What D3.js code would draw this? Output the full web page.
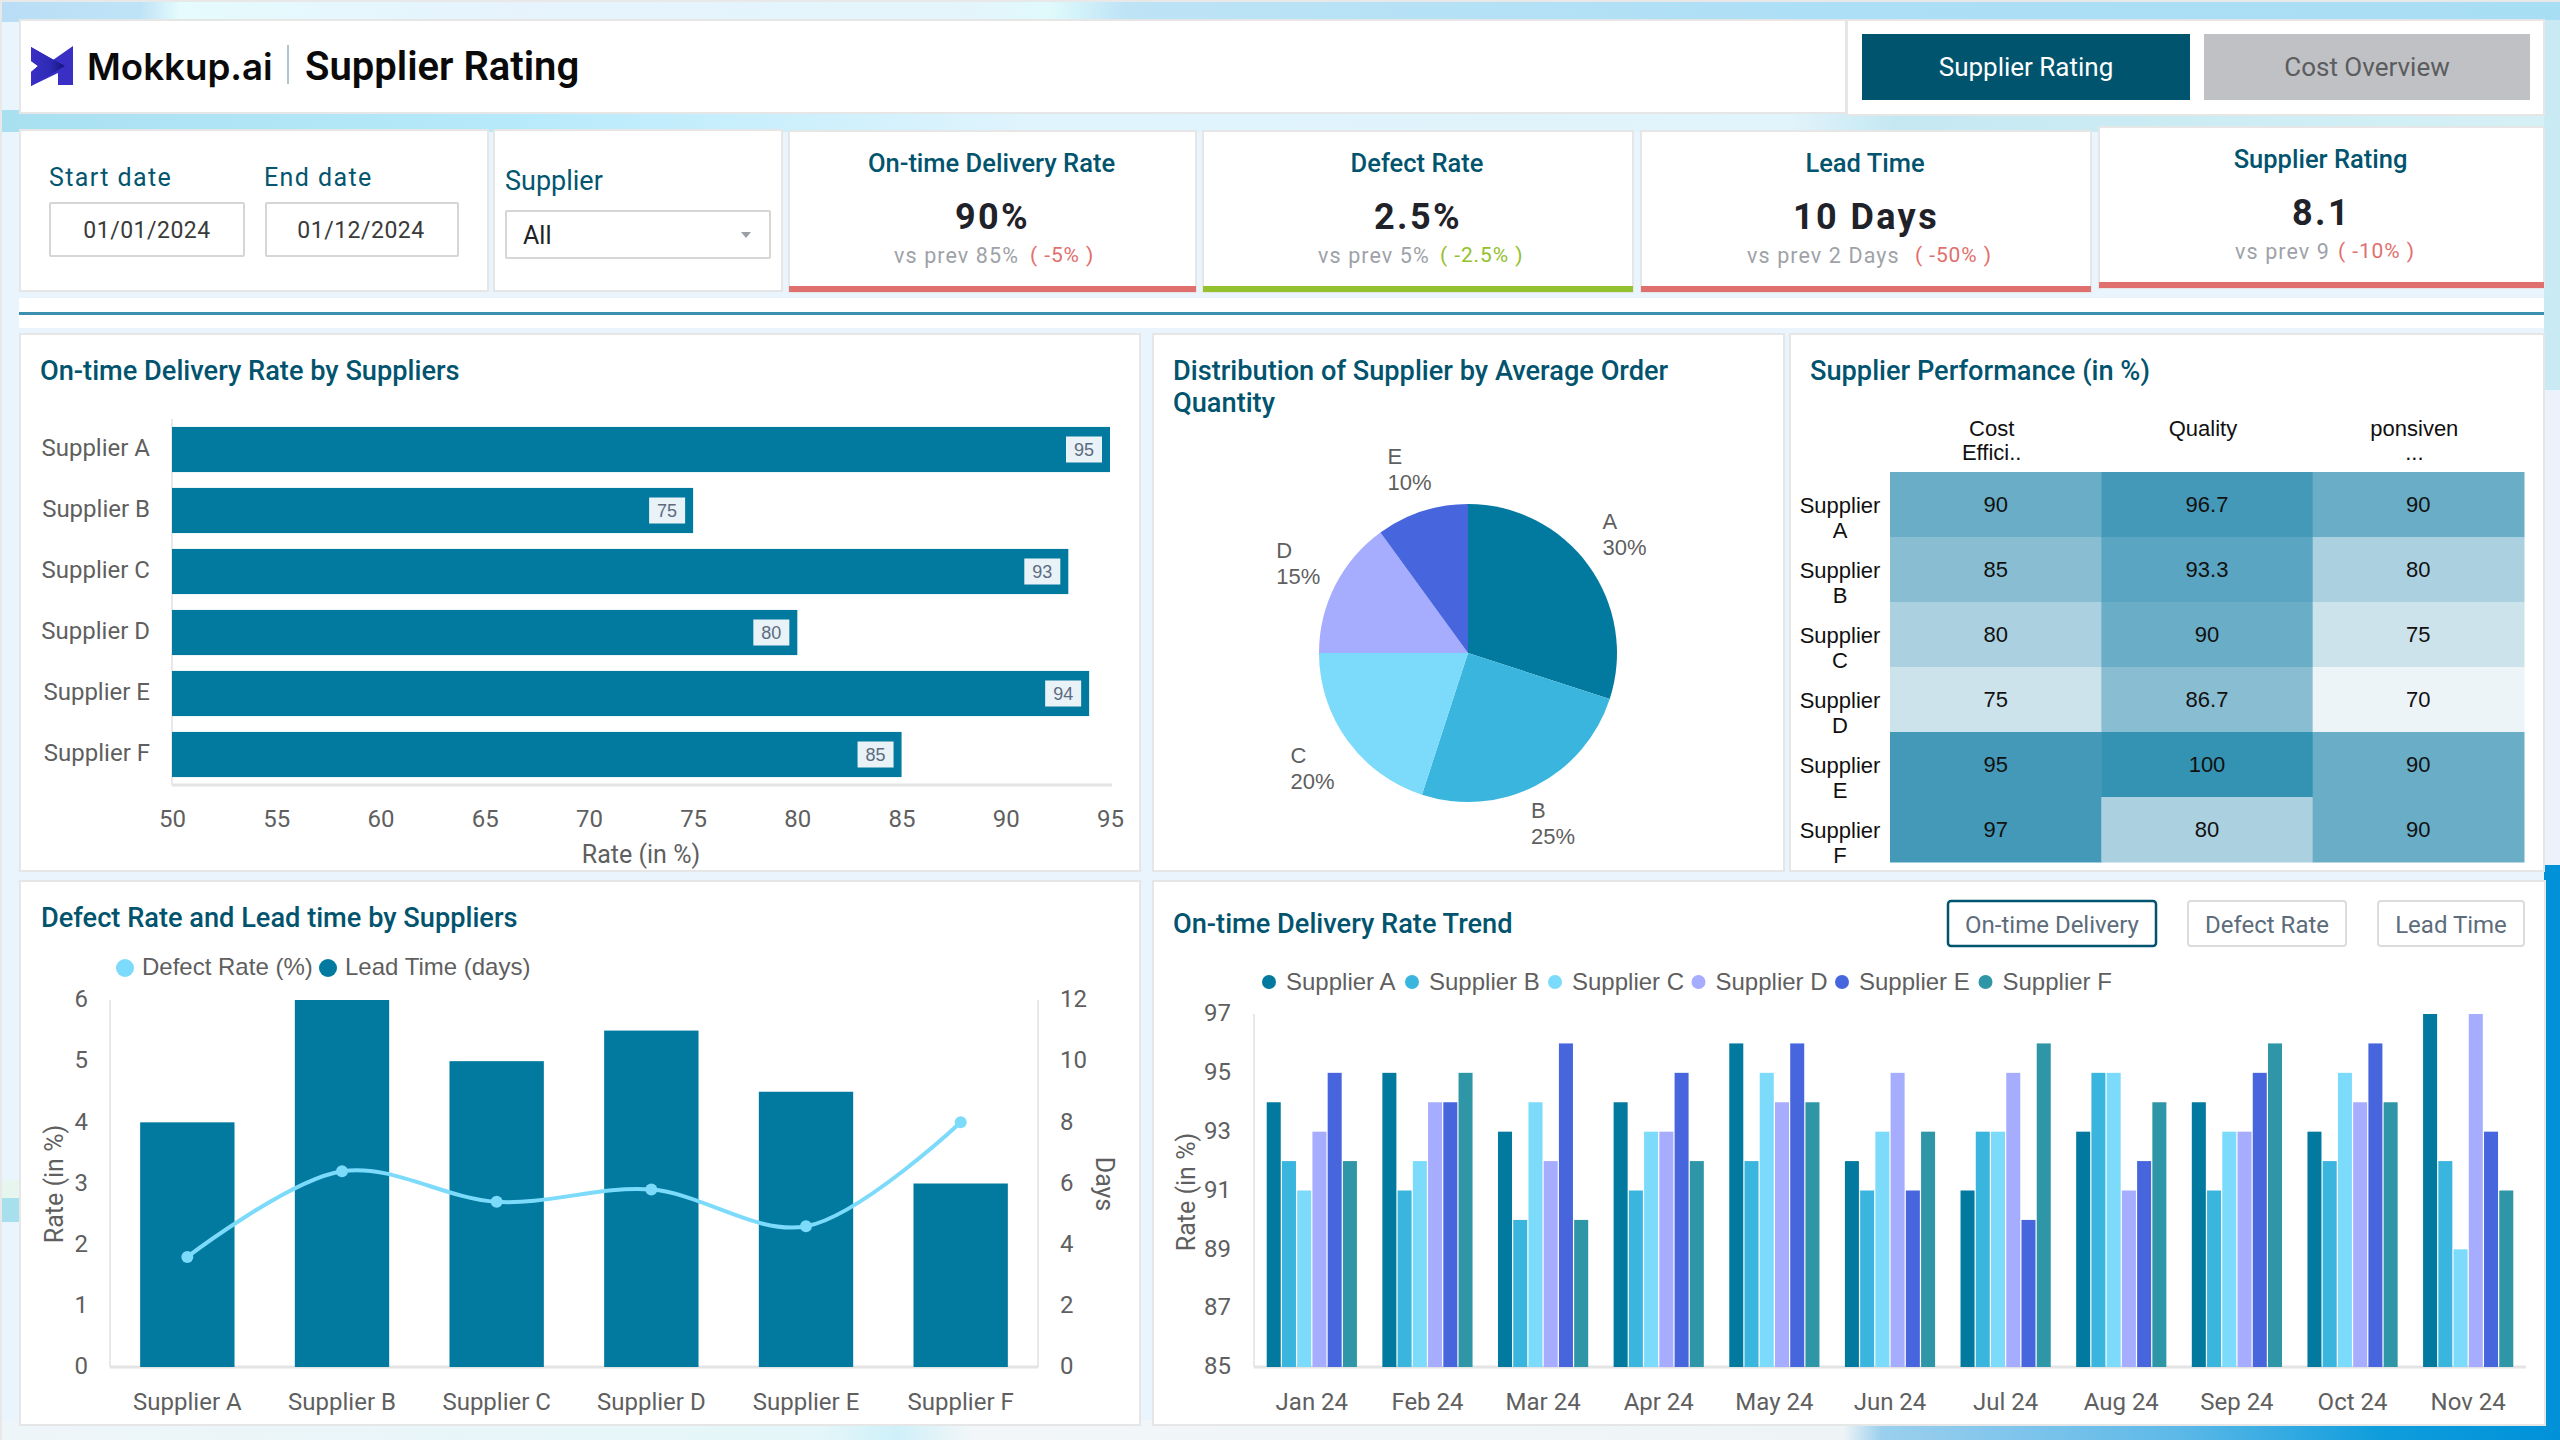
<!DOCTYPE html>
<html lang="en">

<head>
  <meta charset="UTF-8">
  <title>Supplier Rating</title>
  <script src="https://d3js.org/d3.v7.min.js"></script>
  <style>
    html, body { margin: 0; padding: 0; background: #eaf5fc; overflow: hidden; }
    svg { display: block; }
    text { font-family: "Liberation Sans", Arial, sans-serif; }
    .title { font-family: Roboto, sans-serif; font-weight: 500; font-size: 27.2px; fill: #02546e; }
    .tick-label text { font-family: Roboto, sans-serif; font-size: 24px; fill: #5f5f5f; }
    .lab { font-size: 24px; fill: #5f5f5f; }
    .axt { font-family: Roboto, sans-serif; font-size: 25px; fill: #5f5f5f; }
    .rb { font-family: Roboto, sans-serif; }
  </style>
</head>

<body>
  <script>
    // data
    var suppliers = ["Supplier A", "Supplier B", "Supplier C", "Supplier D", "Supplier E", "Supplier F"]
    var onTimeRate = [95, 75, 93, 80, 94, 85]
    var rateTicks = [50, 55, 60, 65, 70, 75, 80, 85, 90, 95]

    var pieNames = ["A", "B", "C", "D", "E"]
    var pieShares = [30, 25, 20, 15, 10]
    var pieColors = ["#02799f", "#3ab6de", "#7cdafb", "#a6adff", "#4766dd"]

    var heatCols = [["Cost", "Effici.."], ["Quality"], ["ponsiven", "..."]]
    var heatRows = [["Supplier", "A"], ["Supplier", "B"], ["Supplier", "C"], ["Supplier", "D"], ["Supplier", "E"], ["Supplier", "F"]]
    var costEff = [90, 85, 80, 75, 95, 97]
    var quality = [96.7, 93.3, 90, 86.7, 100, 80]
    var responsive = [90, 80, 75, 70, 90, 90]
    var heatBreaks = [75, 80, 85, 90, 93, 95, 100]
    var heatColors = ["#ecf4f7", "#cce3eb", "#abd0df", "#89bdd1", "#69adc6", "#5aa5c1", "#4599b8", "#3492b3"]

    var leadTime = [8, 12, 10, 11, 9, 6]
    var defectRate = [1.8, 3.2, 2.7, 2.9, 2.3, 4.0]

    var months = ["Jan 24", "Feb 24", "Mar 24", "Apr 24", "May 24", "Jun 24", "Jul 24", "Aug 24", "Sep 24", "Oct 24", "Nov 24"]
    var trendA = [94, 95, 93, 94, 96, 92, 91, 93, 94, 93, 97]
    var trendB = [92, 91, 90, 91, 92, 91, 93, 95, 91, 92, 92]
    var trendC = [91, 92, 94, 93, 95, 93, 93, 95, 93, 95, 89]
    var trendD = [93, 94, 92, 93, 94, 95, 95, 91, 93, 94, 97]
    var trendE = [95, 94, 96, 95, 96, 91, 90, 92, 95, 96, 93]
    var trendF = [92, 95, 90, 92, 94, 93, 96, 94, 96, 94, 91]
    var trendTicks = [85, 87, 89, 91, 93, 95, 97]
    var trendColors = ["#02799f", "#3ab6de", "#7cdafb", "#a6adff", "#4766dd", "#2e96a6"]

    var kpiTitles = ["On-time Delivery Rate", "Defect Rate", "Lead Time", "Supplier Rating"]
    var kpiValues = ["90%", "2.5%", "10 Days", "8.1"]
    var kpiPrev = ["vs prev 85%", "vs prev 5%", "vs prev 2 Days", "vs prev 9"]
    var kpiDelta = ["( -5% )", "( -2.5% )", "( -50% )", "( -10% )"]
    var kpiGood = [false, true, false, false]

    var svg = d3.select("body").append("svg")
      .attr("width", 2560)
      .attr("height", 1440)

    var defs = svg.append("defs")

    function gradient(id, stops) {
      var g = defs.append("linearGradient").attr("id", id)
      stops.forEach(function (s) {
        g.append("stop").attr("offset", s[0]).attr("stop-color", s[1])
      })
    }

    // background
    gradient("bgTop", [[0, "#b9ddf5"], [0.055, "#bfe3f6"], [0.07, "#e5fbfd"], [0.2, "#e6f3fd"], [0.38, "#e3f5fb"], [0.41, "#e0fafc"], [0.44, "#bde3f5"], [0.7, "#addff6"], [1, "#a8def4"]])
    gradient("bgGap", [[0, "#a9e0f0"], [0.2, "#b6eafb"], [0.4, "#dff4fd"], [0.7, "#e1f3fb"], [0.74, "#c4e8f2"], [1, "#d6f1f6"]])
    gradient("bgBottom", [[0, "#eef5f8"], [0.32, "#e4f6f9"], [0.35, "#cff0f9"], [0.38, "#f2f6f8"], [0.72, "#eef4f6"], [0.735, "#9bcfee"], [0.85, "#5db9e8"], [0.93, "#0f9ddc"], [1, "#0091d8"]])
    svg.append("rect").attr("width", 2560).attr("height", 1440).attr("fill", "#eaf4fc")
    svg.append("rect").attr("y", 2).attr("width", 2560).attr("height", 20).attr("fill", "url(#bgTop)")
    svg.append("rect").attr("y", 110).attr("width", 2560).attr("height", 22).attr("fill", "url(#bgGap)")
    svg.append("rect").attr("x", 2).attr("y", 1198).attr("width", 18).attr("height", 24).attr("fill", "#a8dfec")
    svg.append("rect").attr("x", 2).attr("y", 1180).attr("width", 18).attr("height", 18).attr("fill", "#e6f6ee")
    svg.append("rect").attr("x", 2544).attr("y", 20).attr("width", 16).attr("height", 860).attr("fill", "#c9e9f3")
    svg.append("rect").attr("x", 2544).attr("y", 390).attr("width", 16).attr("height", 480).attr("fill", "#ecf2fc")
    svg.append("rect").attr("x", 2544).attr("y", 865).attr("width", 16).attr("height", 575).attr("fill", "#0091d8")
    svg.append("rect").attr("y", 1420).attr("width", 2560).attr("height", 20).attr("fill", "url(#bgBottom)")
    svg.append("rect").attr("width", 2560).attr("height", 2).attr("fill", "#e8e8e8")
    svg.append("rect").attr("width", 2).attr("height", 1440).attr("fill", "#e8e8e8")

    function card(x, y, w, h) {
      svg.append("rect").attr("x", x).attr("y", y).attr("width", w).attr("height", h)
        .attr("fill", "#fff").attr("stroke", "#e6e6e6").attr("stroke-width", 2)
    }

    function label(parent, x, y, txt, cls, anchor) {
      return parent.append("text").attr("x", x).attr("y", y).attr("dy", "0.35em")
        .attr("class", cls || "").attr("text-anchor", anchor || "start").text(txt)
    }

    // header
    card(20, 20, 1826, 93)
    card(1847, 20, 697, 95)

    var logo = svg.append("g").attr("transform", "translate(31,46)")
    gradient("logoFill", [[0, "#3a2fc4"], [0.55, "#2d2bb5"], [1, "#14147c"]])
    logo.append("path").attr("d", "M0,1 L22,14 L42,0 L42,39 L27,39 L27,27 L0,40 L0,26 L7,20 L0,15 Z").attr("fill", "#3a2fc4")
    logo.append("path").attr("d", "M0,1 L34,20 L0,40 L0,26 L7,20 L0,15 Z").attr("fill", "url(#logoFill)")

    label(svg, 87, 67, "Mokkup.ai").style("font-family", "Inter").style("font-weight", 600).style("font-size", "36.7px").attr("fill", "#0a0a0a")
    svg.append("line").attr("x1", 288).attr("x2", 288).attr("y1", 45).attr("y2", 84).attr("stroke", "#5e8d9e")
    label(svg, 305, 66, "Supplier Rating", "rb").style("font-weight", 600).style("font-size", "40px").attr("fill", "#0a0a0a")

    svg.append("rect").attr("x", 1862).attr("y", 34).attr("width", 328).attr("height", 66).attr("fill", "#00546e")
    svg.append("rect").attr("x", 2204).attr("y", 34).attr("width", 326).attr("height", 66).attr("fill", "#c0c1c4")
    label(svg, 2026, 67, "Supplier Rating", "rb", "middle").style("font-size", "26px").attr("fill", "#fff")
    label(svg, 2367, 67, "Cost Overview", "rb", "middle").style("font-size", "26px").attr("fill", "#5b5c5e")

    // filters
    card(20, 130, 468, 161)
    card(494, 130, 288, 161)
    function field(x, y, w, h) {
      svg.append("rect").attr("x", x).attr("y", y).attr("width", w).attr("height", h).attr("rx", 1)
        .attr("fill", "#fff").attr("stroke", "#d6d6d6").attr("stroke-width", 2)
    }
    label(svg, 49, 177, "Start date", "rb").style("font-size", "25px").style("letter-spacing", "1.4px").attr("fill", "#04566f")
    label(svg, 264, 177, "End date", "rb").style("font-size", "25px").style("letter-spacing", "1.4px").attr("fill", "#04566f")
    field(50, 203, 194, 53)
    field(266, 203, 192, 53)
    label(svg, 147, 230, "01/01/2024", "rb", "middle").style("font-size", "23px").style("letter-spacing", "0.5px").attr("fill", "#3a3a3a")
    label(svg, 361, 230, "01/12/2024", "rb", "middle").style("font-size", "23px").style("letter-spacing", "0.5px").attr("fill", "#3a3a3a")
    label(svg, 505, 181, "Supplier", "rb").style("font-size", "27px").attr("fill", "#04566f")
    field(506, 211, 264, 47)
    label(svg, 523, 235, "All", "rb").style("font-size", "25px").attr("fill", "#222")
    svg.append("path").attr("d", "M741,232 L751,232 L746,238 Z").attr("fill", "#9a9fa6")

    // kpi cards
    var kpiBox = [[789, 131, 407, 161], [1203, 131, 430, 161], [1641, 131, 450, 161], [2099, 127, 445, 161]]
    var kpiPrevX = [894, 1318, 1747, 2235]
    var kpiDeltaX = [1030, 1440, 1915, 2338]
    kpiBox.forEach(function (b, i) {
      card(b[0], b[1], b[2], b[3])
      svg.append("rect").attr("x", b[0]).attr("y", b[1] + b[3] - 6).attr("width", b[2]).attr("height", 6)
        .attr("fill", kpiGood[i] ? "#94c12e" : "#df706d")
      var cx = b[0] + b[2] / 2
      label(svg, cx - 1, b[1] + 32, kpiTitles[i], "rb", "middle").style("font-size", "25.5px").style("font-weight", 500).attr("fill", "#02546e")
      label(svg, cx, b[1] + 85, kpiValues[i], "rb", "middle").style("font-size", "36px").style("font-weight", 700).style("letter-spacing", "2.4px").attr("fill", "#1f2329")
      label(svg, kpiPrevX[i], b[1] + 124, kpiPrev[i], "rb").style("font-size", "21.5px").style("letter-spacing", "1.1px").attr("fill", "#9ea2a8")
      label(svg, kpiDeltaX[i], b[1] + 124, kpiDelta[i], "rb").style("font-size", "21px").style("letter-spacing", "0.9px")
        .attr("fill", kpiGood[i] ? "#94c12e" : "#df706d")
    })

    // divider
    svg.append("rect").attr("x", 19).attr("y", 298).attr("width", 2525).attr("height", 30).attr("fill", "#fff")
    svg.append("rect").attr("x", 19).attr("y", 312).attr("width", 2525).attr("height", 3).attr("fill", "#3a90ae")

    // panels
    card(20, 334, 1120, 537)
    card(1153, 334, 631, 537)
    card(1790, 334, 754, 537)
    card(20, 881, 1120, 544)
    card(1153, 881, 1392, 544)

    function axisStyle(g) {
      g.attr("class", "tick-label")
      g.select(".domain").remove()
      g.selectAll(".tick line").remove()
    }

    // ******************* On-time delivery by supplier *******************
    label(svg, 40, 370, "On-time Delivery Rate by Suppliers", "title")

    var c1 = svg.append("g").attr("transform", "translate(172,419)")
    var c1w = 938, c1h = 366
    var c1x = d3.scaleLinear().domain([50, 95]).range([0, c1w])
    var c1y = d3.scaleBand().domain(suppliers).range([0, c1h]).paddingInner(0.26).paddingOuter(0.13)

    c1.append("line").attr("y2", c1h).attr("stroke", "#e8e8e8").attr("stroke-width", 2)
    c1.append("line").attr("y1", c1h).attr("y2", c1h).attr("x2", c1w + 2).attr("stroke", "#e4e4e4").attr("stroke-width", 3)

    c1.selectAll(".bar").data(suppliers).enter().append("rect")
      .attr("class", "bar")
      .attr("x", 0)
      .attr("y", function (d) { return c1y(d) })
      .attr("width", function (d, i) { return c1x(onTimeRate[i]) })
      .attr("height", c1y.bandwidth())
      .attr("fill", "#02799f")

    var tags = c1.selectAll(".tag").data(suppliers).enter().append("g").attr("class", "tag")
      .attr("transform", function (d, i) { return "translate(" + c1x(onTimeRate[i]) + "," + (c1y(d) + c1y.bandwidth() / 2) + ")" })
    tags.append("rect").attr("x", -44).attr("y", -13).attr("width", 36).attr("height", 26).attr("fill", "#e9f2f7")
    tags.append("text").attr("x", -26).attr("dy", "0.36em").attr("text-anchor", "middle")
      .style("font-size", "18px").attr("fill", "#5c6b80")
      .text(function (d, i) { return onTimeRate[i] })

    c1.append("g").attr("transform", "translate(0,-1)")
      .call(d3.axisLeft(c1y).tickSize(0).tickPadding(22)).call(axisStyle)
    c1.append("g").attr("transform", "translate(0," + c1h + ")")
      .call(d3.axisBottom(c1x).tickValues(rateTicks).tickSize(0).tickPadding(25)).call(axisStyle)
    label(svg, 641, 854, "Rate (in %)", "axt", "middle")

    // ******************* Pie *******************
    label(svg, 1173, 370, "Distribution of Supplier by Average Order", "title")
    label(svg, 1173, 402, "Quantity", "title")

    var pie = svg.append("g").attr("transform", "translate(1468,653)")
    var arc = d3.arc().innerRadius(0).outerRadius(149)
    var pieData = d3.pie().sort(null)(pieShares)
    pie.selectAll("path").data(pieData).enter().append("path")
      .attr("d", arc)
      .attr("fill", function (d, i) { return pieColors[i] })

    // labels sit just outside the slice mid angle
    var pieLabelOffset = [[-24, -3], [-26, -4], [-19, 0], [-17, -1], [-20, 3]]
    var labelArc = d3.arc().innerRadius(196).outerRadius(196)
    var pieLabels = pie.selectAll(".pl").data(pieData).enter().append("g").attr("class", "pl")
      .attr("transform", function (d, i) {
        var p = labelArc.centroid(d)
        return "translate(" + (p[0] + pieLabelOffset[i][0]) + "," + (p[1] + pieLabelOffset[i][1]) + ")"
      })
    pieLabels.append("text").attr("class", "lab").attr("y", -13).attr("dy", "0.35em").style("font-size", "22px")
      .text(function (d, i) { return pieNames[i] })
    pieLabels.append("text").attr("class", "lab").attr("y", 13).attr("dy", "0.35em").style("font-size", "22px")
      .text(function (d, i) { return pieShares[i] + "%" })

    // ******************* Heatmap *******************
    label(svg, 1810, 370, "Supplier Performance (in %)", "title")

    var heat = svg.append("g").attr("transform", "translate(1890,472)")
    var hx = d3.scaleBand().domain(d3.range(3)).range([0, 634])
    var hy = d3.scaleBand().domain(d3.range(6)).range([0, 390])
    var hc = d3.scaleThreshold().domain(heatBreaks).range(heatColors)
    var heatCells = []
    ;[costEff, quality, responsive].forEach(function (col, c) {
      col.forEach(function (v, r) { heatCells.push({ c: c, r: r, v: v }) })
    })
    heat.selectAll("rect").data(heatCells).enter().append("rect")
      .attr("x", function (d) { return hx(d.c) })
      .attr("y", function (d) { return hy(d.r) })
      .attr("width", hx.bandwidth() + 0.5)
      .attr("height", hy.bandwidth() + 0.5)
      .attr("fill", function (d) { return hc(d.v) })
    heat.selectAll(".val").data(heatCells).enter().append("text")
      .attr("class", "val")
      .attr("x", function (d) { return hx(d.c) + hx.bandwidth() / 2 })
      .attr("y", function (d) { return hy(d.r) + hy.bandwidth() / 2 - 0.7 })
      .attr("dy", "0.35em").attr("text-anchor", "middle")
      .style("font-size", "22px").attr("fill", "#111")
      .text(function (d) { return d.v })

    heatCols.forEach(function (lines, c) {
      lines.forEach(function (t, j) {
        label(heat, hx(c) + hx.bandwidth() / 2 - 4, -44 + j * 24, t, "", "middle").style("font-size", "22px").attr("fill", "#111")
      })
    })
    heatRows.forEach(function (lines, r) {
      lines.forEach(function (t, j) {
        label(heat, -50, hy(r) + 33 + j * 25, t, "", "middle").style("font-size", "22px").attr("fill", "#111")
      })
    })

    // ******************* Defect rate and lead time *******************
    label(svg, 41, 917, "Defect Rate and Lead time by Suppliers", "title")

    svg.append("circle").attr("cx", 125).attr("cy", 968).attr("r", 9).attr("fill", "#7cdafb")
    label(svg, 142, 967, "Defect Rate (%)", "lab")
    svg.append("circle").attr("cx", 328).attr("cy", 968).attr("r", 9).attr("fill", "#02799f")
    label(svg, 345, 967, "Lead Time (days)", "lab")

    var c4 = svg.append("g").attr("transform", "translate(110,1000)")
    var c4w = 928, c4h = 367
    var c4x = d3.scaleBand().domain(suppliers).range([0, c4w]).paddingInner(0.39).paddingOuter(0.195)
    var c4left = d3.scaleLinear().domain([0, 6]).range([c4h, 0])
    var c4right = d3.scaleLinear().domain([0, 12]).range([c4h, 0])

    c4.append("line").attr("y2", c4h).attr("stroke", "#e8e8e8").attr("stroke-width", 2)
    c4.append("line").attr("x1", c4w).attr("x2", c4w).attr("y2", c4h).attr("stroke", "#e8e8e8").attr("stroke-width", 2)
    c4.append("line").attr("y1", c4h).attr("y2", c4h).attr("x2", c4w).attr("stroke", "#e4e4e4").attr("stroke-width", 3)

    c4.selectAll(".bar").data(suppliers).enter().append("rect")
      .attr("class", "bar")
      .attr("x", function (d) { return c4x(d) })
      .attr("y", function (d, i) { return c4right(leadTime[i]) })
      .attr("width", c4x.bandwidth())
      .attr("height", function (d, i) { return c4h - c4right(leadTime[i]) })
      .attr("fill", "#02799f")

    var defectLine = d3.line()
      .x(function (d, i) { return c4x(suppliers[i]) + c4x.bandwidth() / 2 })
      .y(function (d) { return c4left(d) })
      .curve(d3.curveCatmullRom.alpha(0.5))
    c4.append("path").attr("d", defectLine(defectRate)).attr("fill", "none").attr("stroke", "#7cdafb").attr("stroke-width", 4)
    c4.selectAll(".dot").data(defectRate).enter().append("circle")
      .attr("class", "dot")
      .attr("cx", function (d, i) { return c4x(suppliers[i]) + c4x.bandwidth() / 2 })
      .attr("cy", function (d) { return c4left(d) })
      .attr("r", 6)
      .attr("fill", "#7cdafb")

    c4.append("g").attr("transform", "translate(0,-1)")
      .call(d3.axisLeft(c4left).ticks(6).tickSize(0).tickPadding(22)).call(axisStyle)
    c4.append("g").attr("transform", "translate(" + c4w + ",-1)")
      .call(d3.axisRight(c4right).ticks(6).tickSize(0).tickPadding(22)).call(axisStyle)
    c4.append("g").attr("transform", "translate(0," + c4h + ")")
      .call(d3.axisBottom(c4x).tickSize(0).tickPadding(26)).call(axisStyle)

    svg.append("text").attr("class", "axt").attr("text-anchor", "middle")
      .attr("transform", "translate(54,1184) rotate(-90)").attr("dy", "0.35em").text("Rate (in %)")
    svg.append("text").attr("class", "axt").attr("text-anchor", "middle")
      .attr("transform", "translate(1105,1184) rotate(90)").attr("dy", "0.35em").text("Days")

    // ******************* Trend *******************
    label(svg, 1173, 923, "On-time Delivery Rate Trend", "title")

    var toggles = [["On-time Delivery", 1948, 208, true], ["Defect Rate", 2188, 158, false], ["Lead Time", 2378, 146, false]]
    toggles.forEach(function (t) {
      svg.append("rect").attr("x", t[1]).attr("y", 901).attr("width", t[2]).attr("height", 45).attr("rx", 3)
        .attr("fill", "#fff").attr("stroke", t[3] ? "#00546e" : "#dcdcdc").attr("stroke-width", t[3] ? 2.5 : 2)
      label(svg, t[1] + t[2] / 2, 925, t[0], "rb", "middle").style("font-size", "24px").attr("fill", "#5d6c7b")
    })

    var legendX = [1269, 1412, 1555, 1698.5, 1842, 1985.5]
    suppliers.forEach(function (n, i) {
      svg.append("circle").attr("cx", legendX[i]).attr("cy", 982).attr("r", 7).attr("fill", trendColors[i])
      label(svg, legendX[i] + 17, 982, n, "lab")
    })

    var trendSeries = [trendA, trendB, trendC, trendD, trendE, trendF]
    var c5 = svg.append("g").attr("transform", "translate(1254,1014)")
    var c5w = 1272, c5h = 353
    var c5x = d3.scaleBand().domain(months).range([0, c5w]).paddingInner(0.22).paddingOuter(0.11)
    var c5x1 = d3.scaleBand().domain(d3.range(6)).range([0, c5x.bandwidth()]).paddingInner(0.08)
    var c5y = d3.scaleLinear().domain([85, 97]).range([c5h, 0])

    c5.append("line").attr("y2", c5h).attr("stroke", "#e8e8e8").attr("stroke-width", 2)
    c5.append("line").attr("y1", c5h).attr("y2", c5h).attr("x2", c5w).attr("stroke", "#e4e4e4").attr("stroke-width", 3)

    trendSeries.forEach(function (vals, s) {
      c5.selectAll(".s" + s).data(months).enter().append("rect")
        .attr("class", "s" + s)
        .attr("x", function (d) { return c5x(d) + c5x1(s) })
        .attr("y", function (d, i) { return c5y(vals[i]) })
        .attr("width", c5x1.bandwidth())
        .attr("height", function (d, i) { return c5h - c5y(vals[i]) })
        .attr("fill", trendColors[s])
    })

    c5.append("g").attr("transform", "translate(0,-1)")
      .call(d3.axisLeft(c5y).tickValues(trendTicks).tickSize(0).tickPadding(23)).call(axisStyle)
    c5.append("g").attr("transform", "translate(0," + c5h + ")")
      .call(d3.axisBottom(c5x).tickSize(0).tickPadding(26)).call(axisStyle)

    svg.append("text").attr("class", "axt").attr("text-anchor", "middle")
      .attr("transform", "translate(1186,1192) rotate(-90)").attr("dy", "0.35em").text("Rate (in %)")
  </script>
</body>

</html>
